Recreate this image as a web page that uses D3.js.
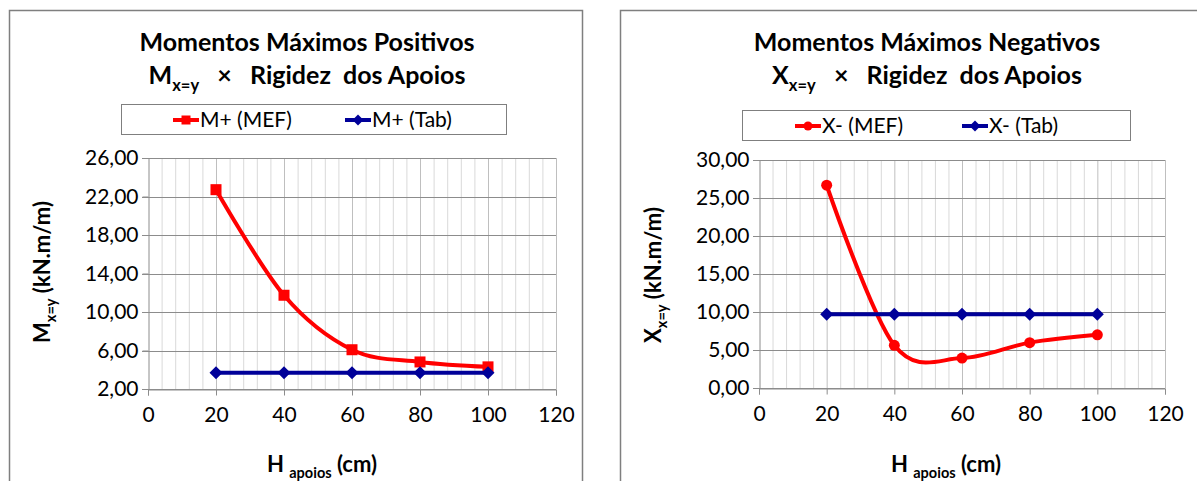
<!DOCTYPE html>
<html>
<head>
<meta charset="utf-8">
<script src="https://cdn.jsdelivr.net/npm/d3@7"></script>
<style>
  body { margin: 0; background: #fff; }
  svg { display: block; font-family: Lato, "Open Sans", sans-serif; }
  text { white-space: pre; }
</style>
</head>
<body>
<div id="chart"></div>
<script>
// H apoios (cm)
const hApoios = [20, 40, 60, 80, 100]

// momentos positivos
const mPosMEF = [22.71, 11.74, 6.08, 4.81, 4.30]
const mPosTab = [3.70, 3.70, 3.70, 3.70, 3.70]

// momentos negativos
const xNegMEF = [26.68, 5.62, 3.94, 5.97, 7.00]
const xNegTab = [9.69, 9.69, 9.69, 9.69, 9.69]

const xTicks = [0, 20, 40, 60, 80, 100, 120]
const yTicksPos = [2, 6, 10, 14, 18, 22, 26]
const yTicksNeg = [0, 5, 10, 15, 20, 25, 30]

const RED = '#ff0000'
const BLUE = '#000099'

const svg = d3.select('#chart').append('svg')
  .attr('width', 1197)
  .attr('height', 481)

svg.append('rect').attr('width', 1197).attr('height', 481).attr('fill', '#fff')

const fmt = v => d3.format('.2f')(v).replace('.', ',')

function marker (g, type, color, size) {
  if (type === 'square') {
    g.append('rect')
      .attr('x', -size / 2).attr('y', -size / 2)
      .attr('width', size).attr('height', size)
      .attr('fill', color)
  } else if (type === 'circle') {
    g.append('circle').attr('r', size / 2).attr('fill', color)
  } else {
    let s = size / 2
    g.append('path')
      .attr('d', `M0,${-s}L${s},0L0,${s}L${-s},0Z`)
      .attr('fill', color)
  }
}

// text with subscript, e.g. M + x=y + rest
function subText (sel, main, sub, rest, size) {
  sel.append('tspan').text(main)
  sel.append('tspan').text(sub)
    .attr('font-size', size * 0.66)
    .attr('dy', size * 0.28)
  sel.append('tspan').text(rest)
    .attr('dy', -size * 0.28)
}

function drawChart (o) {
  let g = svg.append('g')

  // chart frame
  g.append('rect')
    .attr('x', o.frame[0] + 0.5).attr('y', 10.5)
    .attr('width', o.frame[1] - o.frame[0]).attr('height', 500)
    .attr('fill', 'none')
    .attr('stroke', '#7f7f7f')
    .attr('stroke-width', 1.5)

  // title
  g.append('text')
    .attr('x', o.titleX).attr('y', 51)
    .attr('text-anchor', 'middle')
    .attr('font-size', 25).attr('font-weight', 'bold')
    .text(o.title)

  g.append('text')
    .attr('x', o.titleX).attr('y', 84)
    .attr('text-anchor', 'middle')
    .attr('font-size', 25).attr('font-weight', 'bold')
    .call(subText, o.sym, 'x=y', '   ×   Rigidez  dos Apoios', 25)

  // legend
  let lg = g.append('g')
  lg.append('rect')
    .attr('x', o.legend[0] + 0.5).attr('y', o.legendY + 0.5)
    .attr('width', o.legend[1] - o.legend[0]).attr('height', 30)
    .attr('fill', '#fff').attr('stroke', '#7f7f7f')

  o.series.forEach((s, i) => {
    let lx = o.legendItems[i]
    let cy = o.legendY + 16
    lg.append('line')
      .attr('x1', lx).attr('x2', lx + 26)
      .attr('y1', cy).attr('y2', cy)
      .attr('stroke', s.color).attr('stroke-width', 4)
    let m = lg.append('g').attr('transform', `translate(${lx + 13},${cy})`)
    marker(m, s.marker, s.color, s.marker === 'diamond' ? 11 : 9)
    lg.append('text')
      .attr('x', lx + 27).attr('y', cy + 7)
      .attr('font-size', 21)
      .text(s.name)
  })

  let x = d3.scaleLinear().domain([0, 120]).range(o.xRange)
  let y = d3.scaleLinear().domain(o.yDomain).range(o.yRange)

  // minor vertical grid (every 4)
  g.append('g')
    .selectAll('line')
    .data(d3.range(4, 120, 4).filter(v => v % 20 !== 0))
    .join('line')
    .attr('x1', d => x(d) + 0.5).attr('x2', d => x(d) + 0.5)
    .attr('y1', o.yRange[1]).attr('y2', o.yRange[0])
    .attr('stroke', '#d9d9d9')

  // major vertical grid
  g.append('g')
    .selectAll('line')
    .data(xTicks.slice(1))
    .join('line')
    .attr('x1', d => x(d) + 0.5).attr('x2', d => x(d) + 0.5)
    .attr('y1', o.yRange[1]).attr('y2', o.yRange[0])
    .attr('stroke', '#bfbfbf')

  // horizontal grid
  g.append('g')
    .selectAll('line')
    .data(o.yTicks)
    .join('line')
    .attr('x1', o.xRange[0] - 6).attr('x2', o.xRange[1])
    .attr('y1', d => Math.round(y(d)) + 0.5).attr('y2', d => Math.round(y(d)) + 0.5)
    .attr('stroke', '#8c8c8c')

  // axes
  let xAxis = g.append('g')
    .attr('transform', `translate(0,${Math.round(o.yRange[0]) + 0.5})`)
    .call(d3.axisBottom(x).tickValues(xTicks).tickSize(6).tickPadding(12).tickFormat(d3.format('d')))
  xAxis.select('.domain').attr('stroke', '#8c8c8c')
  xAxis.selectAll('.tick line').attr('stroke', '#8c8c8c')
  xAxis.selectAll('text').attr('font-size', 21).attr('font-family', 'Lato').attr('fill', '#000')

  let yAxis = g.append('g')
    .attr('transform', `translate(${Math.round(o.xRange[0]) + 0.5},0)`)
    .call(d3.axisLeft(y).tickValues(o.yTicks).tickSize(6).tickPadding(4).tickFormat(fmt))
  yAxis.select('.domain').attr('stroke', '#8c8c8c')
  yAxis.selectAll('.tick line').attr('stroke', '#8c8c8c')
  yAxis.selectAll('text').attr('font-size', 21).attr('font-family', 'Lato').attr('fill', '#000')

  // axis titles
  g.append('text')
    .attr('transform', `translate(${o.yTitleX},${o.yTitleY}) rotate(-90)`)
    .attr('text-anchor', 'middle')
    .attr('font-size', 22).attr('font-weight', 'bold')
    .call(subText, o.sym, 'x=y', ' (kN.m/m)', 22)

  g.append('text')
    .attr('x', o.xTitleX).attr('y', 472)
    .attr('text-anchor', 'middle')
    .attr('font-size', 22).attr('font-weight', 'bold')
    .call(subText, 'H ', 'apoios', ' (cm)', 22)

  // series
  let line = d3.line()
    .x((d, i) => x(hApoios[i]))
    .y(d => y(d))
    .curve(d3.curveCardinal.tension(0))

  o.series.forEach(s => {
    g.append('path')
      .datum(s.values)
      .attr('d', line)
      .attr('fill', 'none')
      .attr('stroke', s.color)
      .attr('stroke-width', 4)
      .attr('stroke-linejoin', 'round')

    g.append('g')
      .selectAll('g')
      .data(s.values)
      .join('g')
      .attr('transform', (d, i) => `translate(${x(hApoios[i])},${y(d)})`)
      .each(function () {
        marker(d3.select(this), s.marker, s.color, s.marker === 'diamond' ? 13 : 11)
      })
  })
}

drawChart({
  frame: [9, 582],
  title: 'Momentos Máximos Positivos',
  titleX: 307,
  sym: 'M',
  legend: [121, 506],
  legendY: 104,
  legendItems: [173, 345],
  xRange: [148, 556],
  yDomain: [2, 26],
  yRange: [389, 158],
  yTicks: yTicksPos,
  yTitleX: 50,
  yTitleY: 272,
  xTitleX: 322,
  series: [
    { name: 'M+ (MEF)', values: mPosMEF, color: RED, marker: 'square' },
    { name: 'M+ (Tab)', values: mPosTab, color: BLUE, marker: 'diamond' }
  ]
})

drawChart({
  frame: [620, 1215],
  title: 'Momentos Máximos Negativos',
  titleX: 927,
  sym: 'X',
  legend: [742, 1130],
  legendY: 110,
  legendItems: [795, 962],
  xRange: [759, 1165],
  yDomain: [0, 30],
  yRange: [388, 160],
  yTicks: yTicksNeg,
  yTitleX: 661,
  yTitleY: 275,
  xTitleX: 946,
  series: [
    { name: 'X- (MEF)', values: xNegMEF, color: RED, marker: 'circle' },
    { name: 'X- (Tab)', values: xNegTab, color: BLUE, marker: 'diamond' }
  ]
})
</script>
</body>
</html>
